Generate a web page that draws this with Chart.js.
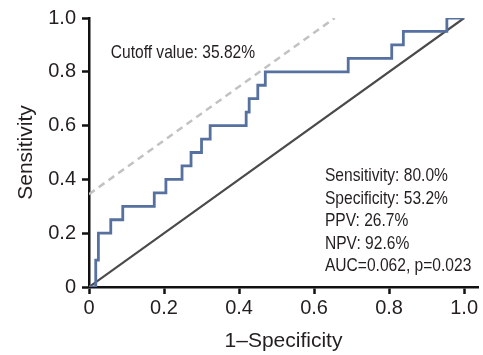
<!DOCTYPE html>
<html>
<head>
<meta charset="utf-8">
<script src="https://cdn.jsdelivr.net/npm/chart.js@4/dist/chart.umd.min.js"></script>
<style>
  body { margin: 0; background: #fff; }
  canvas { display: block; }
</style>
</head>
<body>
<canvas id="roc" width="483" height="355"></canvas>
<script>
// ROC curve, one vertex per vertical jump (1-specificity, sensitivity)
var rocFpr = [0, 0.018, 0.025, 0.058, 0.090, 0.174, 0.205, 0.248, 0.272, 0.300, 0.323, 0.419, 0.427, 0.450, 0.470, 0.691, 0.807, 0.838, 0.954, 1.0];
var rocTpr = [0, 0.10, 0.20, 0.25, 0.30, 0.35, 0.40, 0.45, 0.50, 0.55, 0.60, 0.65, 0.70, 0.75, 0.80, 0.85, 0.90, 0.95, 1.0, 1.0];

// reference diagonal and cutoff line
var diagX = [0, 1];
var diagY = [0, 1];
var cutX = [0, 0.655];
var cutY = [0.345, 1.0];

var xTicks = [0, 0.2, 0.4, 0.6, 0.8, 1.0];
var yTicks = [0, 0.2, 0.4, 0.6, 0.8, 1.0];

var cutoffLabel = 'Cutoff value: 35.82%';
var statLines = [
  'Sensitivity: 80.0%',
  'Specificity: 53.2%',
  'PPV: 26.7%',
  'NPV: 92.6%',
  'AUC=0.062, p=0.023'
];

var FONT = '"Liberation Sans", Arial, sans-serif';

function pts(xs, ys) {
  return xs.map(function(v, i) { return {x: v, y: ys[i]}; });
}
function fmt(v) {
  return v === 0 ? '0' : v.toFixed(1);
}

// text notes placed in data coordinates, squeezed to look condensed
var notes = {
  id: 'notes',
  afterDatasetsDraw: function(chart) {
    var ctx = chart.ctx, x = chart.scales.x, y = chart.scales.y;
    var sx = 0.82;
    function put(t, px, py) {
      ctx.save();
      ctx.translate(px, py);
      ctx.scale(sx, 1);
      ctx.fillText(t, 0, 0);
      ctx.restore();
    }
    ctx.save();
    ctx.font = '19px ' + FONT;
    ctx.fillStyle = '#231f20';
    ctx.textBaseline = 'middle';
    put(cutoffLabel, x.getPixelForValue(0.058), y.getPixelForValue(0.87));
    var y0 = y.getPixelForValue(0.413);
    statLines.forEach(function(t, i) {
      put(t, x.getPixelForValue(0.629), y0 + i * 22.5);
    });
    ctx.restore();
  }
};

new Chart(document.getElementById('roc'), {
  type: 'line',
  data: {
    datasets: [
      {
        data: pts(rocFpr, rocTpr),
        borderColor: '#56709f',
        borderWidth: 2.8,
        stepped: 'before',
        pointRadius: 0
      },
      {
        data: pts(diagX, diagY),
        borderColor: '#4a4a4a',
        borderWidth: 2.2,
        pointRadius: 0
      },
      {
        data: pts(cutX, cutY),
        borderColor: '#c2c2c2',
        borderWidth: 2.5,
        borderDash: [7, 5],
        pointRadius: 0
      }
    ]
  },
  options: {
    responsive: false,
    animation: false,
    layout: { padding: { top: 16, right: 5, bottom: 1, left: 0 } },
    plugins: { legend: { display: false }, tooltip: { enabled: false } },
    scales: {
      x: {
        type: 'linear',
        min: 0,
        max: 1.037,
        afterBuildTicks: function(s) { s.ticks = xTicks.map(function(v) { return {value: v}; }); },
        afterFit: function(s) { s.height = 67; },
        border: { color: '#111', width: 2.5 },
        grid: { drawOnChartArea: false, tickLength: 7, tickColor: '#111', tickWidth: 2.5 },
        ticks: {
          padding: 2,
          color: '#231f20',
          font: { family: FONT, size: 20 },
          maxRotation: 0,
          callback: fmt
        },
        title: {
          display: true,
          text: '1\u2013Specificity',
          color: '#231f20',
          font: { family: FONT, size: 21 },
          padding: 0
        }
      },
      y: {
        type: 'linear',
        min: 0,
        max: 1,
        afterBuildTicks: function(s) { s.ticks = yTicks.map(function(v) { return {value: v}; }); },
        afterFit: function(s) { s.width = 89; },
        border: { color: '#111', width: 2.5 },
        grid: { drawOnChartArea: false, tickLength: 7, tickColor: '#111', tickWidth: 2.5 },
        ticks: {
          padding: 6,
          color: '#231f20',
          font: { family: FONT, size: 20 },
          callback: fmt
        },
        title: {
          display: true,
          text: 'Sensitivity',
          color: '#231f20',
          font: { family: FONT, size: 21 },
          padding: { top: 14, bottom: 0 }
        }
      }
    }
  },
  plugins: [notes]
});
</script>
</body>
</html>
